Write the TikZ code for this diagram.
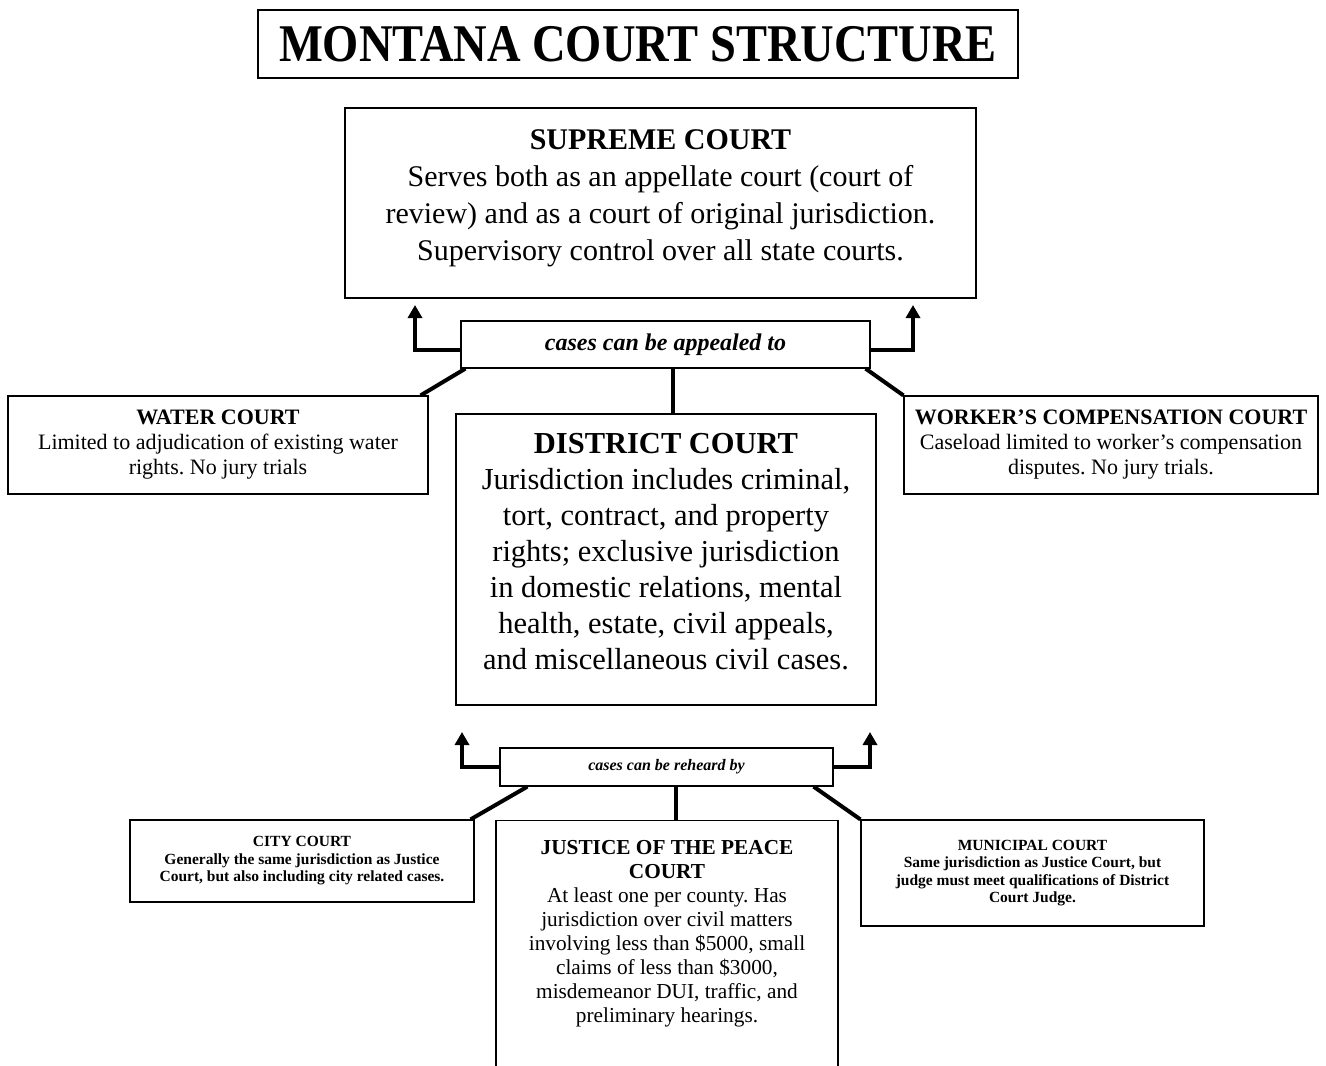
\documentclass[tikz,border=0pt]{standalone}
\usepackage{fontspec}
\setmainfont{Liberation Serif}
\usepackage{graphicx}
\usetikzlibrary{arrows.meta,positioning}
\frenchspacing

\newcommand{\lastdp}[1]{\rule[-#1]{0pt}{0pt}}

\begin{document}
\begin{tikzpicture}[x=1pt,y=-1pt,line width=4pt,>={Triangle[width=14pt,length=13pt]},
        court/.style={draw,line width=1.2pt,align=center,inner sep=0pt},
        big/.style={font=\fontsize{30}{37}\selectfont},
        mid/.style={font=\fontsize{22}{25}\selectfont},
        small/.style={font=\fontsize{15.5}{17.5}\selectfont\bfseries},
        linkbox/.style={court,font=\bfseries\itshape}]
        \useasboundingbox (0,0) rectangle (1326,1066);
        \clip (0,0) rectangle (1326,1066);
        %   \fill[white] (0,0) rectangle (1326,1066);

        \node[court,minimum width=760pt,minimum height=68pt] (title) at (638,44)
            {\fontsize{53}{60}\selectfont\bfseries\scalebox{0.877}[1]{MONTANA COURT STRUCTURE}};
        \node[court,big,minimum width=631pt,minimum height=190pt] (supreme) at (660.5,203)
            {\textbf{SUPREME COURT}\\Serves both as an appellate court (court of\\review) and as a court of original jurisdiction.\\Supervisory control over all state courts.\lastdp{16pt}};
        \node[linkbox,minimum width=409pt,minimum height=47pt] (appeal) at (665.5,344.5)
            {\fontsize{24}{28}\selectfont cases can be appealed to};
        \node[court,mid,minimum width=420pt,minimum height=98pt] (water) at (218,445)
            {\textbf{WATER COURT}\\Limited to adjudication of existing water\\rights. No jury trials};
        \node[court,mid,minimum width=414pt,minimum height=98pt] (worker) at (1111,445)
            {\textbf{WORKER’S COMPENSATION COURT}\\Caseload limited to worker’s compensation\\disputes. No jury trials.};
        \node[court,minimum width=420pt,minimum height=291pt,font=\fontsize{30.5}{36}\selectfont] (district) at (666,559.5)
            {\textbf{DISTRICT COURT}\\Jurisdiction includes criminal,\\tort, contract, and property\\rights; exclusive jurisdiction\\in domestic relations, mental\\health, estate, civil appeals,\\and miscellaneous civil cases.\lastdp{17pt}};
        \node[linkbox,minimum width=333pt,minimum height=38pt] (rehear) at (666.5,767)
            {\fontsize{16}{19}\selectfont cases can be reheard by};
        \node[court,small,minimum width=344pt,minimum height=82pt] (city) at (302,861)
            {CITY COURT\\Generally the same jurisdiction as Justice\\Court, but also including city related cases.};
        \node[court,anchor=north,minimum width=342pt,inner ysep=20pt,font=\fontsize{21.3}{24}\selectfont] (justice) at (667,820)
            {\textbf{JUSTICE OF THE PEACE}\\\textbf{COURT}\\At least one per county. Has\\jurisdiction over civil matters\\involving less than \$5000, small\\claims of less than \$3000,\\misdemeanor DUI, traffic, and\\preliminary hearings.\lastdp{120pt}};
        \node[court,small,minimum width=343pt,minimum height=106pt] (municipal) at (1032.5,873)
            {MUNICIPAL COURT\\Same jurisdiction as Justice Court, but\\judge must meet qualifications of District\\Court Judge.};

        \coordinate (upL) at (415,305);
        \coordinate (upR) at (913,305);
        \coordinate (dnL) at (462,732);
        \coordinate (dnR) at (870,732);

        \draw[->] ([yshift=-5pt]appeal.west) -| (upL);
        \draw[->] ([yshift=-5pt]appeal.east) -| (upR);
        \path ([xshift=5pt]appeal.south west) edge ([xshift=-8pt]water.north east)
        ([xshift=-5pt]appeal.south east) edge (worker.north west)
        ([xshift=7pt]appeal.south) edge ([xshift=7pt]appeal.south |- district.north);

        \draw[->] (rehear.west) -| (dnL);
        \draw[->] (rehear.east) -| (dnR);
        \path ([xshift=28pt]rehear.south west) edge ([xshift=-4pt]city.north east)
        ([xshift=-20pt]rehear.south east) edge (municipal.north west)
        ([xshift=9pt]rehear.south) edge ([xshift=9pt]rehear.south |- justice.north);
    \end{tikzpicture}
\end{document}
